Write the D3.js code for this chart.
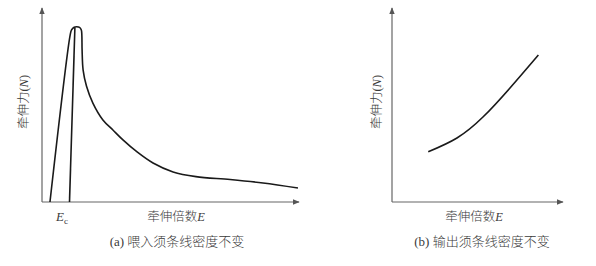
<!DOCTYPE html>
<html>
<head>
<meta charset="utf-8">
<script src="https://cdn.jsdelivr.net/npm/d3@7"></script>
<style>
  body { margin: 0; background: #fff; }
  text { font-family: "Liberation Serif", "Noto Sans CJK SC", serif; fill: #3a3a3a; font-weight: 300; }
</style>
</head>
<body>
<div id="chart"></div>
<script>
// Width and height
var svgWidth = 596;
var svgHeight = 266;

// (a) draw ratio vs. drafting force, rising line, rounded peak, then falling curve
var feedX = [0.31, 1.09, 1.15, 1.25, 1.35, 1.46, 1.53, 1.55, 1.56, 1.6, 1.73, 1.98, 2.37, 2.76, 3.15, 3.7, 4.32, 5.1, 5.99, 7.32, 8.6, 9.96];
var feedY = [0, 8.56, 8.87, 9.01, 9.03, 9.0, 8.87, 8.61, 7.84, 6.8, 5.98, 5.1, 4.23, 3.71, 3.2, 2.58, 2.01, 1.55, 1.31, 1.16, 0.98, 0.72];
// inner line of panel (a), from the peak down to Ec
var innerX = [1.28, 1.07];
var innerY = [9.0, 0];
var ecValue = 0.78;

// (b) rising curve
var outX = [2.12, 3.80, 5.32, 6.90, 8.56];
var outY = [2.59, 3.30, 4.38, 5.88, 7.58];

var xLabel = "牵伸倍数";
var captions = ["(a) 喂入须条线密度不变", "(b) 输出须条线密度不变"];

var svg = d3.select("#chart")
  .append("svg")
  .attr("width", svgWidth)
  .attr("height", svgHeight);

// arrow head for the axes
svg.append("defs").append("marker")
  .attr("id", "arrow")
  .attr("viewBox", "0 0 10 10")
  .attr("refX", 9)
  .attr("refY", 5)
  .attr("markerWidth", 7)
  .attr("markerHeight", 7)
  .attr("markerUnits", "userSpaceOnUse")
  .attr("orient", "auto")
  .append("path")
  .attr("d", "M0,1L10,5L0,9Z")
  .attr("fill", "#555");

// panel boxes
var panels = [
  { left: 42, right: 299, top: 8, bottom: 202, caption: captions[0], capX: 177, yLabX: 24, xLabX: 176 },
  { left: 392, right: 563, top: 8, bottom: 202, caption: captions[1], capX: 482, yLabX: 377, xLabX: 474 }
];

var lineA = d3.line()
  .x(d => d.x)
  .y(d => d.y)
  .curve(d3.curveCatmullRom.alpha(0.5));

var lineB = d3.line()
  .x(d => d.x)
  .y(d => d.y)
  .curve(d3.curveNatural);

panels.forEach(function (p, i) {
  var xScale = d3.scaleLinear().domain([0, 10]).range([p.left, p.right]);
  var yScale = d3.scaleLinear().domain([0, 10]).range([p.bottom, p.top]);

  var g = svg.append("g");

  // axes, no ticks, arrow at the end
  var bottomAxis = d3.axisBottom(xScale).tickValues([]).tickSizeOuter(0);
  var leftAxis = d3.axisLeft(yScale).tickValues([]).tickSizeOuter(0);

  var gx = g.append("g")
    .attr("transform", `translate(0, ${p.bottom})`)
    .call(bottomAxis);
  gx.select(".domain")
    .attr("d", `M${p.left},0H${p.right}`)
    .attr("stroke", "#666")
    .attr("stroke-width", 1.2)
    .attr("marker-end", "url(#arrow)");

  var gy = g.append("g")
    .attr("transform", `translate(${p.left}, 0)`)
    .call(leftAxis);
  gy.select(".domain")
    .attr("d", `M0,${p.bottom}V${p.top}`)
    .attr("stroke", "#666")
    .attr("stroke-width", 1.2)
    .attr("marker-end", "url(#arrow)");

  // curves
  var series = i === 0 ? [[feedX, feedY], [innerX, innerY]] : [[outX, outY]];
  series.forEach(function (s) {
    var pts = s[0].map((v, k) => ({ x: xScale(v), y: yScale(s[1][k]) }));
    g.append("path")
      .attr("d", (i === 0 ? lineA : lineB)(pts))
      .attr("fill", "none")
      .attr("stroke", "#1a1a1a")
      .attr("stroke-width", 1.6)
      .attr("stroke-linejoin", "round");
  });

  // y label
  g.append("text")
    .attr("transform", `translate(${p.yLabX}, ${(p.top + p.bottom) / 2 - 3}) rotate(-90)`)
    .attr("text-anchor", "middle")
    .attr("dy", "0.35em")
    .style("font-size", "12.5px")
    .html('牵伸力(<tspan font-style="italic">N</tspan>)');

  // x label
  g.append("text")
    .attr("x", p.xLabX)
    .attr("y", 221)
    .attr("text-anchor", "middle")
    .style("font-size", "12.5px")
    .html(xLabel + '<tspan font-style="italic">E</tspan>');

  // caption
  g.append("text")
    .attr("x", p.capX)
    .attr("y", 246)
    .attr("text-anchor", "middle")
    .style("font-size", "13px")
    .text(p.caption);

  // Ec label
  if (i === 0) {
    g.append("text")
      .attr("x", xScale(ecValue))
      .attr("y", 221)
      .attr("text-anchor", "middle")
      .style("font-size", "13px")
      .html('<tspan font-style="italic">E</tspan><tspan font-size="9px" dy="3">c</tspan>');
  }
});
</script>
</body>
</html>
